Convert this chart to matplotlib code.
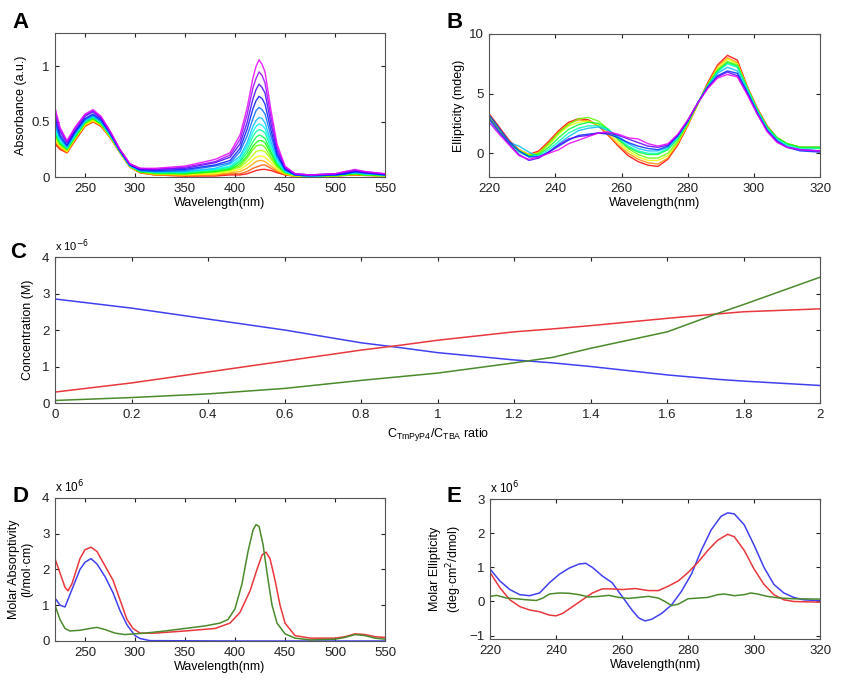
import numpy as np
import matplotlib.pyplot as plt
from matplotlib.ticker import FuncFormatter

plt.rcParams['font.family'] = ['Liberation Sans', 'DejaVu Sans']

# ---- panel A: UV-vis titration, 16 spectra (red -> magenta)
wl_a = [220, 225, 232, 240, 250, 258, 266, 275, 285, 295, 305, 320, 350, 380, 395,
        405, 412, 418, 421, 424, 427, 430, 436, 442, 450, 460, 475, 500, 510, 520, 530, 550]
abs_a = [
    [0.30, 0.25, 0.22, 0.33, 0.46, 0.50, 0.46, 0.36, 0.22, 0.09, 0.04, 0.02, 0.01, 0.01, 0.02, 0.02, 0.03, 0.05, 0.06, 0.065, 0.07, 0.07, 0.06, 0.04, 0.02, 0.01, 0.005, 0.01, 0.015, 0.02, 0.015, 0.01],
    [0.31, 0.26, 0.22, 0.33, 0.46, 0.50, 0.46, 0.36, 0.22, 0.09, 0.04, 0.02, 0.01, 0.02, 0.03, 0.03, 0.05, 0.08, 0.09, 0.10, 0.11, 0.11, 0.08, 0.05, 0.02, 0.01, 0.01, 0.01, 0.02, 0.02, 0.02, 0.01],
    [0.33, 0.27, 0.23, 0.34, 0.47, 0.51, 0.47, 0.36, 0.22, 0.09, 0.04, 0.02, 0.02, 0.02, 0.04, 0.05, 0.08, 0.12, 0.14, 0.15, 0.15, 0.14, 0.10, 0.06, 0.03, 0.01, 0.01, 0.01, 0.02, 0.02, 0.02, 0.01],
    [0.34, 0.28, 0.23, 0.35, 0.47, 0.51, 0.47, 0.37, 0.22, 0.09, 0.05, 0.03, 0.02, 0.03, 0.05, 0.07, 0.11, 0.16, 0.18, 0.19, 0.19, 0.18, 0.13, 0.07, 0.03, 0.01, 0.01, 0.01, 0.02, 0.03, 0.02, 0.01],
    [0.36, 0.29, 0.24, 0.35, 0.48, 0.52, 0.48, 0.37, 0.23, 0.10, 0.05, 0.03, 0.03, 0.04, 0.06, 0.09, 0.14, 0.20, 0.23, 0.24, 0.24, 0.23, 0.16, 0.09, 0.03, 0.01, 0.01, 0.01, 0.02, 0.03, 0.02, 0.01],
    [0.38, 0.30, 0.25, 0.36, 0.49, 0.53, 0.48, 0.37, 0.23, 0.10, 0.05, 0.03, 0.03, 0.05, 0.07, 0.10, 0.17, 0.25, 0.28, 0.29, 0.29, 0.27, 0.18, 0.10, 0.04, 0.02, 0.01, 0.01, 0.02, 0.03, 0.02, 0.01],
    [0.39, 0.30, 0.25, 0.36, 0.49, 0.53, 0.48, 0.38, 0.23, 0.10, 0.05, 0.04, 0.03, 0.05, 0.07, 0.12, 0.19, 0.28, 0.31, 0.33, 0.33, 0.31, 0.21, 0.11, 0.04, 0.02, 0.01, 0.02, 0.02, 0.03, 0.02, 0.02],
    [0.41, 0.31, 0.26, 0.37, 0.50, 0.54, 0.49, 0.38, 0.23, 0.10, 0.05, 0.04, 0.04, 0.06, 0.08, 0.14, 0.22, 0.32, 0.36, 0.38, 0.37, 0.35, 0.23, 0.12, 0.05, 0.02, 0.01, 0.02, 0.03, 0.04, 0.03, 0.02],
    [0.42, 0.32, 0.26, 0.37, 0.50, 0.54, 0.49, 0.38, 0.23, 0.10, 0.06, 0.04, 0.04, 0.07, 0.09, 0.15, 0.25, 0.37, 0.41, 0.43, 0.42, 0.40, 0.26, 0.14, 0.05, 0.02, 0.01, 0.02, 0.03, 0.04, 0.03, 0.02],
    [0.44, 0.33, 0.27, 0.38, 0.51, 0.55, 0.50, 0.39, 0.23, 0.10, 0.06, 0.05, 0.05, 0.07, 0.10, 0.17, 0.28, 0.41, 0.46, 0.48, 0.47, 0.44, 0.29, 0.15, 0.05, 0.02, 0.01, 0.02, 0.03, 0.04, 0.03, 0.02],
    [0.46, 0.35, 0.27, 0.39, 0.51, 0.55, 0.50, 0.39, 0.23, 0.10, 0.06, 0.05, 0.05, 0.08, 0.12, 0.19, 0.31, 0.46, 0.51, 0.54, 0.53, 0.49, 0.32, 0.17, 0.06, 0.02, 0.01, 0.02, 0.03, 0.04, 0.03, 0.02],
    [0.49, 0.36, 0.28, 0.40, 0.52, 0.56, 0.51, 0.39, 0.24, 0.11, 0.06, 0.05, 0.06, 0.10, 0.13, 0.23, 0.37, 0.53, 0.60, 0.63, 0.61, 0.57, 0.37, 0.19, 0.07, 0.02, 0.01, 0.02, 0.03, 0.05, 0.04, 0.02],
    [0.52, 0.38, 0.29, 0.41, 0.53, 0.57, 0.52, 0.40, 0.24, 0.11, 0.07, 0.06, 0.07, 0.11, 0.15, 0.26, 0.43, 0.62, 0.69, 0.73, 0.71, 0.66, 0.42, 0.21, 0.07, 0.02, 0.02, 0.02, 0.03, 0.05, 0.04, 0.02],
    [0.56, 0.41, 0.31, 0.42, 0.55, 0.59, 0.53, 0.41, 0.24, 0.11, 0.07, 0.07, 0.08, 0.13, 0.18, 0.30, 0.49, 0.71, 0.79, 0.84, 0.81, 0.76, 0.48, 0.24, 0.08, 0.03, 0.02, 0.03, 0.04, 0.06, 0.04, 0.03],
    [0.59, 0.43, 0.32, 0.44, 0.56, 0.60, 0.54, 0.41, 0.25, 0.12, 0.08, 0.07, 0.09, 0.14, 0.20, 0.34, 0.56, 0.81, 0.89, 0.95, 0.92, 0.85, 0.54, 0.27, 0.09, 0.03, 0.02, 0.03, 0.05, 0.06, 0.05, 0.03],
    [0.63, 0.45, 0.33, 0.45, 0.57, 0.61, 0.55, 0.42, 0.25, 0.12, 0.08, 0.08, 0.10, 0.16, 0.22, 0.38, 0.62, 0.90, 1.00, 1.06, 1.02, 0.95, 0.60, 0.30, 0.10, 0.03, 0.02, 0.03, 0.05, 0.07, 0.05, 0.03],
]

# ---- panel B: CD titration, 10 spectra (red -> magenta)
wl_b = [220, 223, 226, 229, 232, 235, 238, 241, 244, 247, 250, 253, 256, 259, 262, 265, 268,
        271, 274, 277, 280, 283, 286, 289, 292, 295, 298, 301, 304, 307, 310, 314, 320]
cd_b = [
    [3.3, 2.2, 1.1, 0.3, -0.1, 0.2, 1.0, 1.9, 2.6, 2.9, 2.8, 2.3, 1.5, 0.6, -0.2, -0.7, -1.0, -1.1, -0.5, 0.7, 2.3, 4.1, 5.9, 7.4, 8.2, 7.8, 5.6, 3.8, 2.3, 1.3, 0.8, 0.5, 0.5],
    [3.1, 2.1, 1.0, 0.2, -0.2, 0.1, 0.9, 1.8, 2.5, 2.8, 2.7, 2.3, 1.5, 0.7, 0.0, -0.5, -0.8, -0.9, -0.4, 0.8, 2.4, 4.1, 5.8, 7.3, 8.0, 7.6, 5.5, 3.7, 2.2, 1.3, 0.8, 0.5, 0.4],
    [3.2, 2.0, 1.0, 0.3, -0.1, 0.0, 0.7, 1.6, 2.3, 2.6, 2.7, 2.4, 1.7, 0.9, 0.2, -0.3, -0.6, -0.6, -0.2, 0.9, 2.4, 4.1, 5.7, 7.1, 7.9, 7.5, 5.5, 3.7, 2.2, 1.3, 0.8, 0.5, 0.4],
    [2.9, 1.9, 0.9, 0.2, -0.2, 0.0, 0.8, 1.7, 2.4, 2.9, 3.0, 2.7, 2.0, 1.1, 0.4, -0.1, -0.4, -0.4, 0.0, 1.0, 2.5, 4.1, 5.7, 7.0, 7.7, 7.4, 5.5, 3.7, 2.2, 1.3, 0.8, 0.5, 0.5],
    [3.0, 1.9, 0.9, 0.2, -0.2, -0.1, 0.5, 1.3, 2.0, 2.4, 2.6, 2.5, 2.0, 1.2, 0.5, 0.1, -0.1, -0.1, 0.3, 1.2, 2.6, 4.2, 5.7, 6.9, 7.6, 7.3, 5.4, 3.6, 2.2, 1.3, 0.8, 0.5, 0.5],
    [2.8, 1.8, 0.8, 0.1, -0.3, -0.2, 0.3, 1.0, 1.7, 2.1, 2.3, 2.3, 2.0, 1.3, 0.6, 0.2, 0.0, 0.0, 0.4, 1.3, 2.6, 4.2, 5.6, 6.8, 7.5, 7.2, 5.4, 3.6, 2.1, 1.2, 0.7, 0.4, 0.4],
    [2.6, 1.7, 0.9, 0.6, 0.1, -0.3, 0.1, 0.8, 1.4, 1.9, 2.1, 2.2, 1.9, 1.4, 0.8, 0.4, 0.2, 0.2, 0.5, 1.4, 2.7, 4.2, 5.6, 6.7, 7.2, 6.9, 5.2, 3.5, 2.0, 1.1, 0.6, 0.3, 0.2],
    [3.2, 2.1, 1.0, 0.2, -0.3, -0.3, 0.1, 0.6, 1.1, 1.5, 1.6, 1.7, 1.6, 1.3, 0.9, 0.6, 0.4, 0.3, 0.6, 1.5, 2.7, 4.2, 5.5, 6.5, 6.9, 6.7, 5.1, 3.4, 1.9, 1.0, 0.5, 0.2, 0.1],
    [2.9, 1.8, 0.8, -0.1, -0.6, -0.4, 0.1, 0.7, 1.2, 1.4, 1.5, 1.7, 1.7, 1.5, 1.2, 0.9, 0.6, 0.5, 0.7, 1.5, 2.7, 4.2, 5.5, 6.4, 6.8, 6.5, 5.0, 3.3, 1.9, 1.0, 0.5, 0.3, 0.2],
    [2.6, 1.6, 0.7, -0.2, -0.5, -0.3, 0.0, 0.3, 0.8, 1.1, 1.4, 1.7, 1.8, 1.6, 1.3, 1.2, 0.8, 0.6, 0.8, 1.6, 2.8, 4.2, 5.4, 6.3, 6.6, 6.4, 4.9, 3.3, 1.8, 0.9, 0.5, 0.3, 0.2],
]

# ---- panel C: concentrations (x 1e-6 M) vs ratio
ratio_c = [0, 0.2, 0.4, 0.6, 0.8, 0.9, 1.0, 1.2, 1.3, 1.4, 1.6, 1.73, 1.8, 2.0]
conc_blue = [2.85, 2.6, 2.3, 2.0, 1.65, 1.52, 1.38, 1.18, 1.1, 1.0, 0.77, 0.65, 0.6, 0.48]
conc_red = [0.3, 0.55, 0.85, 1.15, 1.45, 1.58, 1.72, 1.95, 2.03, 2.12, 2.32, 2.44, 2.5, 2.58]
conc_green = [0.07, 0.15, 0.25, 0.4, 0.62, 0.72, 0.82, 1.1, 1.25, 1.5, 1.95, 2.45, 2.7, 3.45]

# ---- panel D: molar absorptivity (x 1e6)
wl_d_red = [220, 225, 230, 233, 237, 245, 250, 256, 262, 270, 278, 285, 292, 298, 305, 320, 350, 380,
            395, 405, 415, 422, 427, 431, 435, 440, 445, 450, 460, 475, 500, 510, 520, 530, 540, 550]
eps_red = [2.3, 1.9, 1.5, 1.4, 1.6, 2.3, 2.55, 2.62, 2.5, 2.1, 1.7, 1.15, 0.6, 0.35, 0.22, 0.22, 0.28, 0.35,
           0.5, 0.8, 1.4, 2.0, 2.4, 2.48, 2.3, 1.7, 1.0, 0.5, 0.15, 0.08, 0.08, 0.12, 0.2, 0.18, 0.12, 0.1]
wl_d_blue = [220, 225, 230, 235, 245, 250, 256, 262, 270, 278, 285, 292, 300, 305, 315, 400, 500, 550]
eps_blue = [1.2, 1.0, 0.95, 1.3, 2.0, 2.2, 2.3, 2.15, 1.8, 1.35, 0.85, 0.45, 0.15, 0.07, 0.01, 0.0, 0.0, 0.0]
wl_d_green = [220, 225, 230, 235, 245, 255, 262, 270, 280, 290, 300, 310, 330, 350, 370, 385, 393, 400,
              407, 413, 418, 421, 424, 428, 432, 437, 442, 450, 460, 475, 500, 510, 520, 530, 540, 550]
eps_green = [1.0, 0.6, 0.35, 0.28, 0.3, 0.35, 0.38, 0.32, 0.22, 0.18, 0.2, 0.22, 0.28, 0.35, 0.42, 0.5, 0.6, 0.9,
             1.6, 2.5, 3.1, 3.25, 3.2, 2.7, 1.9, 1.0, 0.5, 0.2, 0.08, 0.03, 0.05, 0.1, 0.18, 0.15, 0.08, 0.05]

# ---- panel E: molar ellipticity (x 1e6)
wl_e_blue = [220, 223, 226, 229, 232, 235, 238, 241, 244, 247, 249, 251, 254, 257, 260, 263, 265, 267,
             269, 272, 275, 278, 281, 284, 287, 290, 292, 294, 297, 300, 303, 306, 309, 312, 315, 320]
ell_blue = [0.95, 0.6, 0.35, 0.2, 0.17, 0.25, 0.55, 0.8, 0.98, 1.1, 1.12, 1.0, 0.75, 0.55, 0.15, -0.25, -0.48, -0.57,
            -0.52, -0.35, -0.1, 0.3, 0.8, 1.5, 2.1, 2.5, 2.6, 2.57, 2.25, 1.65, 1.0, 0.5, 0.25, 0.12, 0.05, 0.02]
wl_e_red = [220, 223, 226, 229, 232, 235, 238, 240, 242, 245, 248, 251, 254, 257, 260, 264, 268, 271,
            274, 277, 280, 283, 286, 289, 292, 294, 297, 300, 303, 306, 309, 312, 320]
ell_red = [0.85, 0.4, 0.05, -0.15, -0.25, -0.3, -0.4, -0.42, -0.35, -0.15, 0.05, 0.25, 0.37, 0.37, 0.35, 0.38, 0.32, 0.32,
           0.45, 0.6, 0.85, 1.15, 1.5, 1.8, 1.97, 1.9, 1.5, 0.95, 0.5, 0.2, 0.05, 0.0, -0.02]
wl_e_green = [220, 222, 225, 228, 231, 234, 236, 238, 241, 244, 247, 250, 253, 256, 259, 262, 265, 268,
              271, 273, 275, 277, 280, 283, 286, 289, 291, 294, 297, 299, 301, 304, 308, 312, 320]
ell_green = [0.15, 0.18, 0.1, 0.08, 0.05, 0.03, 0.1, 0.22, 0.25, 0.24, 0.2, 0.13, 0.15, 0.18, 0.12, 0.09, 0.12, 0.15,
             0.1, 0.0, -0.12, -0.08, 0.08, 0.1, 0.12, 0.2, 0.22, 0.17, 0.2, 0.25, 0.22, 0.15, 0.1, 0.08, 0.07]

RED = '#e8373d'
BLUE = '#4040f0'
GREEN = '#4b8a2c'


def style(ax):
    ax.tick_params(direction='in', top=True, right=True, length=3, labelsize=9.5,
                   colors='#222222', pad=4)
    for s in ax.spines.values():
        s.set_color('#555555')
        s.set_linewidth(0.8)


fig = plt.figure(figsize=(8.42, 6.92), dpi=100)

# A
axA = fig.add_axes([0.0653, 0.744, 0.392, 0.208])
cols_a = plt.cm.hsv(np.linspace(0, 0.83, len(abs_a)))
for row, c in zip(abs_a, cols_a):
    axA.plot(wl_a, row, color=c, lw=1.0, alpha=0.85)
axA.set_xlim(220, 550)
axA.set_ylim(0, 1.3)
axA.set_xticks([250, 300, 350, 400, 450, 500, 550])
axA.set_yticks([0, 0.5, 1])
axA.yaxis.set_major_formatter(FuncFormatter(lambda v, p: f'{v:g}'))
axA.set_xlabel('Wavelength(nm)', fontsize=9, labelpad=2)
axA.set_ylabel('Absorbance (a.u.)', fontsize=9, labelpad=3)
style(axA)

# B
axB = fig.add_axes([0.581, 0.744, 0.393, 0.207])
cols_b = plt.cm.hsv(np.linspace(0, 0.83, len(cd_b)))
for row, c in zip(cd_b, cols_b):
    axB.plot(wl_b, row, color=c, lw=1.0, alpha=0.85)
axB.set_xlim(220, 320)
axB.set_ylim(-2, 10)
axB.set_xticks([220, 240, 260, 280, 300, 320])
axB.set_yticks([0, 5, 10])
axB.set_xlabel('Wavelength(nm)', fontsize=9, labelpad=2)
axB.set_ylabel('Ellipticity (mdeg)', fontsize=9, labelpad=3)
style(axB)

# C
axC = fig.add_axes([0.0653, 0.4176, 0.909, 0.211])
axC.plot(ratio_c, conc_blue, color=BLUE, lw=1.1)
axC.plot(ratio_c, conc_red, color=RED, lw=1.1)
axC.plot(ratio_c, conc_green, color=GREEN, lw=1.1)
axC.set_xlim(0, 2)
axC.set_ylim(0, 4)
axC.set_xticks(np.arange(0, 2.01, 0.2))
axC.set_yticks([0, 1, 2, 3, 4])
axC.xaxis.set_major_formatter(FuncFormatter(lambda v, p: f'{v:g}'))
axC.set_xlabel(r'$\mathregular{C_{TmPyP4}/C_{TBA}}$ ratio', fontsize=9, labelpad=4)
axC.set_ylabel('Concentration (M)', fontsize=9, labelpad=6)
axC.text(0.0, 1.02, r'x 10$^{-6}$', transform=axC.transAxes, fontsize=8, va='bottom')
style(axC)

# D
axD = fig.add_axes([0.0653, 0.0737, 0.392, 0.207])
axD.plot(wl_d_red, eps_red, color=RED, lw=1.1)
axD.plot(wl_d_blue, eps_blue, color=BLUE, lw=1.1)
axD.plot(wl_d_green, eps_green, color=GREEN, lw=1.1)
axD.set_xlim(220, 550)
axD.set_ylim(0, 4)
axD.set_xticks([250, 300, 350, 400, 450, 500, 550])
axD.set_yticks([0, 1, 2, 3, 4])
axD.set_xlabel('Wavelength(nm)', fontsize=9, labelpad=2)
axD.set_ylabel('Molar Absorptivity\n(l/mol·cm)', fontsize=9, labelpad=6)
axD.text(0.0, 1.02, r'x 10$^{6}$', transform=axD.transAxes, fontsize=8.5, va='bottom')
style(axD)

# E
axE = fig.add_axes([0.582, 0.0766, 0.392, 0.202])
axE.plot(wl_e_blue, ell_blue, color=BLUE, lw=1.1)
axE.plot(wl_e_red, ell_red, color=RED, lw=1.1)
axE.plot(wl_e_green, ell_green, color=GREEN, lw=1.1)
axE.set_xlim(220, 320)
axE.set_ylim(-1.1, 3)
axE.set_xticks([220, 240, 260, 280, 300, 320])
axE.set_yticks([-1, 0, 1, 2, 3])
axE.set_xlabel('Wavelength(nm)', fontsize=9, labelpad=2)
axE.set_ylabel('Molar Ellipticity\n(deg·cm$^2$/dmol)', fontsize=9, labelpad=4)
axE.text(0.0, 1.02, r'x 10$^{6}$', transform=axE.transAxes, fontsize=8.5, va='bottom')
style(axE)

# panel letters
for lab, x, y in [('A', 12, 22), ('B', 446, 22), ('C', 10, 252), ('D', 12, 496), ('E', 447, 496)]:
    fig.text(x / 842, 1 - y / 692, lab, fontsize=16, fontweight='bold', va='center')

fig.savefig('out.png', dpi=100)
